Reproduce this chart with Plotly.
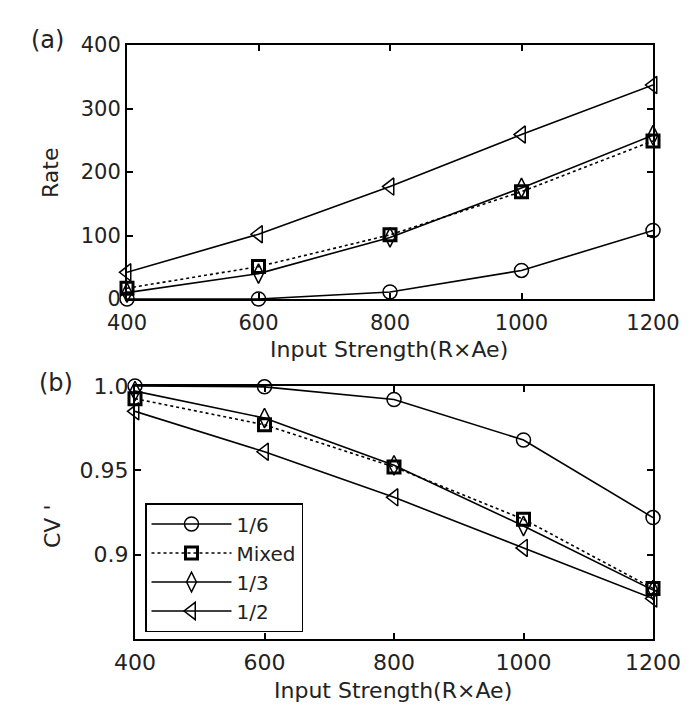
import plotly.graph_objects as go

x_vals = [400, 600, 800, 1000, 1200]

series_names = ["1/6", "Mixed", "1/3", "1/2"]

rate_1_6 = [0, 0, 11, 45, 108]
rate_mixed = [17, 51, 101, 169, 249]
rate_1_3 = [10, 40, 97, 175, 258]
rate_1_2 = [42, 102, 177, 259, 337]

cv_1_6 = [1.0, 0.9995, 0.992, 0.968, 0.922]
cv_mixed = [0.9925, 0.977, 0.952, 0.921, 0.880]
cv_1_3 = [0.997, 0.981, 0.953, 0.917, 0.879]
cv_1_2 = [0.985, 0.961, 0.934, 0.904, 0.874]

x_ticks = [400, 600, 800, 1000, 1200]
rate_ticks = [0, 100, 200, 300, 400]
cv_ticks = [0.9, 0.95, 1.0]
cv_ticktext = ["0.9", "0.95", "1.0"]

OFF = 8  # page body margin
W, H = 695 - OFF, 718 - OFF
FONT = "DejaVu Sans"
TXT = "#222222"
FS = 22
FS_TOP = 21
FS_BOT = 22
FS_LEG = 20

styles = {
    "1/6": dict(symbol="circle-open", size=14, dash="solid", mlw=1.5),
    "Mixed": dict(symbol="square-open", size=12, dash="dot", mlw=3),
    "1/3": dict(symbol="diamond-tall-open", size=14, dash="solid", mlw=1.5),
    "1/2": dict(symbol="triangle-left-open", size=15, dash="solid", mlw=1.5),
}

fig = go.Figure()

rate_data = [rate_1_6, rate_mixed, rate_1_3, rate_1_2]
cv_data = [cv_1_6, cv_mixed, cv_1_3, cv_1_2]

for name, ys in zip(series_names, rate_data):
    s = styles[name]
    fig.add_trace(go.Scatter(
        x=x_vals, y=ys, mode="lines+markers", name=name, showlegend=False,
        line=dict(color="black", width=1.6, dash=s["dash"]),
        marker=dict(symbol=s["symbol"], size=s["size"], color="black",
                    line=dict(color="black", width=s["mlw"])),
        xaxis="x", yaxis="y", cliponaxis=False,
    ))

for name, ys in zip(series_names, cv_data):
    s = styles[name]
    fig.add_trace(go.Scatter(
        x=x_vals, y=ys, mode="lines+markers", name=name, showlegend=True,
        line=dict(color="black", width=1.6, dash=s["dash"]),
        marker=dict(symbol=s["symbol"], size=s["size"], color="black",
                    line=dict(color="black", width=s["mlw"])),
        xaxis="x2", yaxis="y2", cliponaxis=False,
    ))

def px_x(p):
    return (p - OFF) / W

def px_y(p):
    return 1 - (p - OFF) / H

def axis_common(fs):
    return dict(
        showline=True, linecolor="black", linewidth=2, mirror="ticks",
        ticks="inside", ticklen=6, tickwidth=1.5, tickcolor="black",
        showgrid=False, zeroline=False, automargin=False,
        tickfont=dict(family=FONT, size=fs, color=TXT),
    )

fig.update_layout(
    width=W, height=H,
    margin=dict(l=0, r=0, t=0, b=0),
    paper_bgcolor="white", plot_bgcolor="white",
    font=dict(family=FONT, size=FS, color=TXT),
    xaxis=dict(domain=[px_x(127), px_x(653)], range=[400, 1200],
               tickvals=x_ticks, anchor="y", ticklabelstandoff=4, **axis_common(FS_TOP)),
    yaxis=dict(domain=[px_y(299), px_y(45)], range=[0, 400],
               tickvals=rate_ticks, anchor="x", **axis_common(FS_TOP)),
    xaxis2=dict(domain=[px_x(135), px_x(653)], range=[400, 1200],
                tickvals=x_ticks, anchor="y2", ticklabelstandoff=3, **axis_common(FS_BOT)),
    yaxis2=dict(domain=[px_y(639), px_y(386)], range=[0.85, 1.0],
                tickvals=cv_ticks, ticktext=cv_ticktext, anchor="x2", **axis_common(FS_BOT)),
    showlegend=True,
    legend=dict(
        x=px_x(145), y=px_y(503), xanchor="left", yanchor="top",
        bgcolor="white", bordercolor="black", borderwidth=1.5,
        font=dict(family=FONT, size=FS_LEG, color=TXT),
        itemwidth=80, tracegroupgap=0,
    ),
)

annotations = [
    dict(text="(a)", x=px_x(47), y=px_y(40), size=24),
    dict(text="(b)", x=px_x(56), y=px_y(383), size=24),
    dict(text="Rate", x=px_x(50), y=px_y(173), textangle=-90, size=FS),
    dict(text="CV '", x=px_x(52), y=px_y(527), textangle=-90, size=FS),
    dict(text="Input Strength(R×Ae)", x=px_x(389), y=px_y(349), size=FS),
    dict(text="Input Strength(R×Ae)", x=px_x(393), y=px_y(690), size=FS),
]
for a in annotations:
    sz = a.pop("size")
    fig.add_annotation(xref="paper", yref="paper", showarrow=False,
                       xanchor="center", yanchor="middle",
                       font=dict(family=FONT, size=sz, color=TXT), **a)

fig.write_html("out.html")
